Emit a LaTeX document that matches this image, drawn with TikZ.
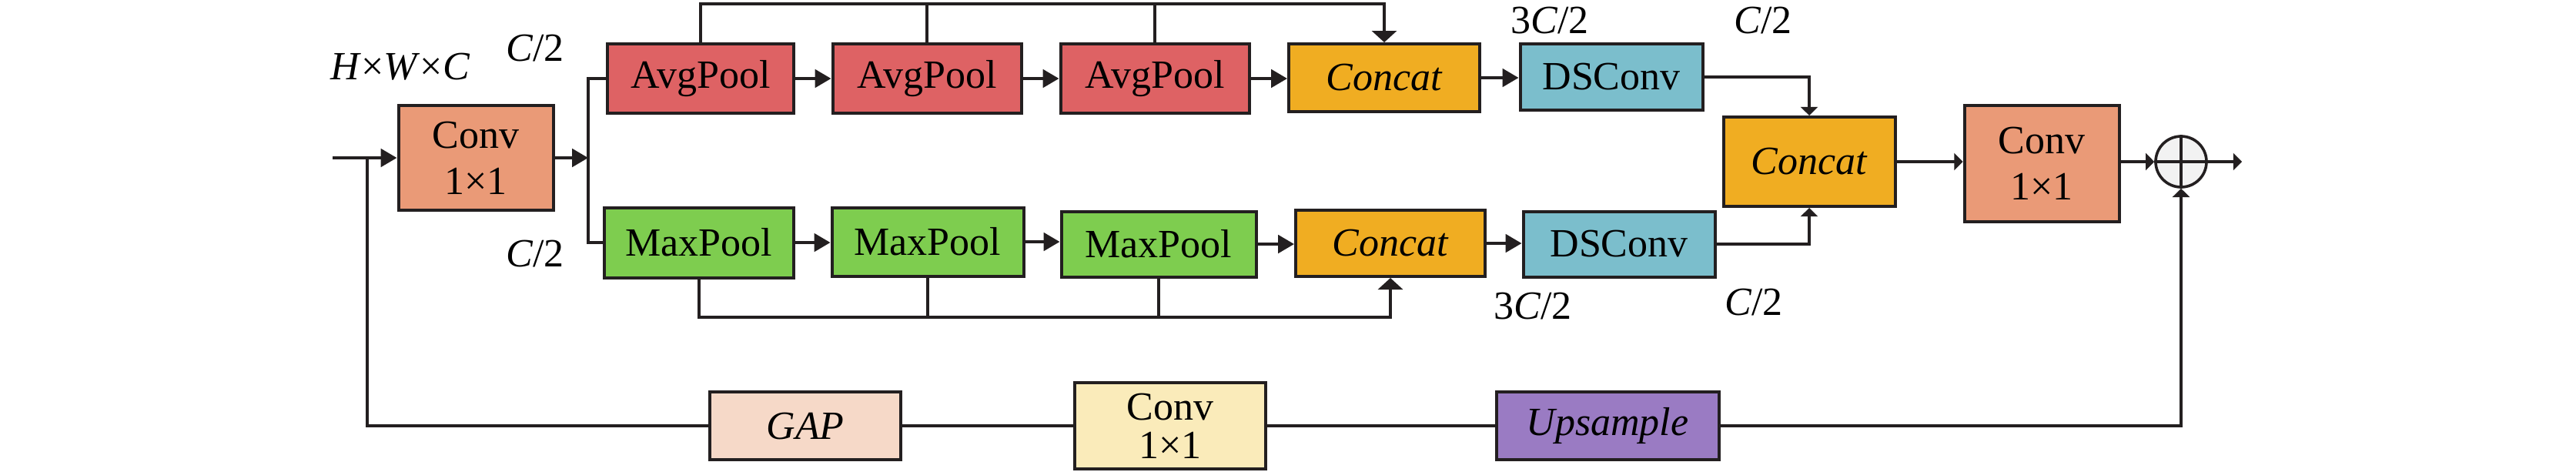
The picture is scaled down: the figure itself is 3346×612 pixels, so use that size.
\documentclass[tikz,border=0pt]{standalone}
\usepackage{fontspec}
\setmainfont{Liberation Serif}
\usetikzlibrary{arrows.meta}
\definecolor{cavg}{HTML}{DE6264}
\definecolor{cmax}{HTML}{7ECD4F}
\definecolor{ccat}{HTML}{F0AD22}
\definecolor{cds}{HTML}{7BBECC}
\definecolor{cconv}{HTML}{EA9A77}
\definecolor{cgap}{HTML}{F6D9C8}
\definecolor{cconvb}{HTML}{FAEBBA}
\definecolor{cups}{HTML}{9A7BC3}
\definecolor{cline}{HTML}{231F20}
\begin{document}
\begin{tikzpicture}[x=0.25pt,y=-0.25pt,
  box/.style={draw=cline, line width=1pt, inner sep=0pt, align=center,
    font=\fontsize{13}{15}\selectfont},
  sz/.style 2 args={minimum width=#1*0.25pt, minimum height=#2*0.25pt},
  lbl/.style={inner sep=0pt, font=\fontsize{13}{15}\selectfont},
  ln/.style={draw=cline, line width=0.8pt},
  mainarr/.style={draw=cline, line width=1pt, -{Triangle[length=5.2pt,width=5.8pt]}},
  vertarr/.style={draw=cline, line width=0.8pt, -{Triangle[length=3.75pt,width=8pt]}},
  smallarr/.style={draw=cline, line width=0.8pt, -{Triangle[length=2.8pt,width=5.5pt]}},
]
\useasboundingbox (0,0) rectangle (3346,612);

% main nodes
\node[box, sz={201}{136}, fill=cconv] (conv1) at (618,205) {Conv\\1×1};
\node[box, sz={242}{90}, fill=cavg] (avg1) at (910,102) {AvgPool};
\node[box, sz={245}{90}, fill=cavg] (avg2) at (1204,102) {AvgPool};
\node[box, sz={245}{90}, fill=cavg] (avg3) at (1500,102) {AvgPool};
\node[box, sz={248}{88}, fill=ccat] (cat1) at (1798,101) {\textit{Concat}};
\node[box, sz={237}{86}, fill=cds] (ds1) at (2093,100) {DSConv};
\node[box, sz={246}{91}, fill=cmax] (max1) at (908,315) {MaxPool};
\node[box, sz={249}{89}, fill=cmax] (max2) at (1205,314) {MaxPool};
\node[box, sz={253}{85}, fill=cmax] (max3) at (1505,317) {MaxPool};
\node[box, sz={246}{86}, fill=ccat] (cat2) at (1806,316) {\textit{Concat}};
\node[box, sz={249}{85}, fill=cds] (ds2) at (2103,317) {DSConv};
\node[box, sz={223}{116}, fill=ccat] (cat3) at (2350,210) {\textit{Concat}};
\node[box, sz={201}{151}, fill=cconv] (conv2) at (2652,212) {Conv\\1×1};
\node[draw=cline, line width=0.9pt, circle, fill=black!5, minimum size=16.5pt, inner sep=0pt] (add) at (2833,210) {};
\node[box, sz={248}{88}, fill=cgap] (gap) at (1046,553) {\textit{GAP}};
\node[box, sz={248}{112}, fill=cconvb, font=\fontsize{13}{12.5}\selectfont] (conv3) at (1520,553) {Conv\\1×1};
\node[box, sz={289}{88}, fill=cups] (ups) at (2088,553) {\textit{Upsample}};

% labels
\node[lbl] (lhwc) at (520,87) {\textit{H}×\textit{W}×\textit{C}};
\node[lbl] (lc1) at (695,63) {\textit{C}/2};
\node[lbl] (lc2) at (695,330) {\textit{C}/2};
\node[lbl] (l3c1) at (2013,27) {3\textit{C}/2};
\node[lbl] (lc3) at (2290,27) {\textit{C}/2};
\node[lbl] (l3c2) at (1991,398) {3\textit{C}/2};
\node[lbl] (lc4) at (2278,393) {\textit{C}/2};

% coordinates
\coordinate (in) at (432,205);
\coordinate (fb) at (477,205);
\coordinate (split) at (764,205);
\coordinate (out) at (2912,210);
\coordinate (toptop) at (0,5);
\coordinate (botbot) at (0,412);
\coordinate (fbbot) at (0,553);

% plus sign
\draw[cline, line width=0.8pt] (add.north) -- (add.south) (add.west) -- (add.east);

% input and split
\draw[mainarr] (in) -- (conv1.west);
\draw[mainarr] (conv1.east) -- (split);
\draw[ln] (avg1.west) -| (split) |- (max1.west);

% pool chains
\draw[mainarr] (avg1) -- (avg2);
\draw[mainarr] (avg2) -- (avg3);
\draw[mainarr] (avg3.east) -- (avg3.east -| cat1.west);
\draw[mainarr] (cat1) -- (cat1 -| ds1.west);
\draw[mainarr] (max1.east) -- (max1.east -| max2.west);
\draw[mainarr] (max2.east) -- (max2.east -| max3.west);
\draw[mainarr] (max3.east) -- (max3.east -| cat2.west);
\draw[mainarr] (cat2.east) -- (cat2.east -| ds2.west);

% bypasses
\draw[vertarr] (avg1.north) |- (toptop -| cat1.north) -- (cat1.north);
\draw[ln] (avg2.north) -- (avg2.north |- toptop);
\draw[ln] (avg3.north) -- (avg3.north |- toptop);
\draw[vertarr] (max1.south) |- (botbot -| cat2.south) -- (cat2.south);
\draw[ln] (max2.south) -- (max2.south |- botbot);
\draw[ln] (max3.south) -- (max3.south |- botbot);

% to final concat
\draw[smallarr] (ds1.east) -| (cat3.north);
\draw[smallarr] (ds2.east) -| (cat3.south);
\draw[smallarr] (cat3.east) -- (conv2.west |- cat3.east);
\draw[smallarr] (conv2.east |- add.west) -- (add.west);
\draw[smallarr] (add.east) -- (out);

% global branch
\draw[ln] (fb) |- (gap.west);
\draw[ln] (gap.east) -- (conv3.west);
\draw[ln] (conv3.east) -- (ups.west);
\draw[smallarr] (ups.east) -| (add.south);
\end{tikzpicture}
\end{document}
